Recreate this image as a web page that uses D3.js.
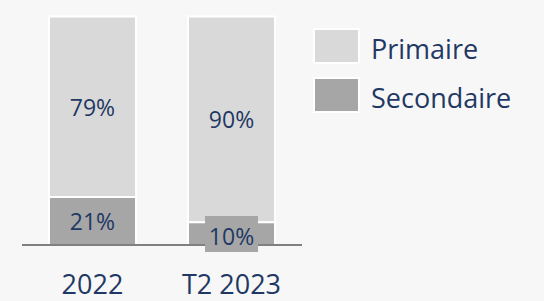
<!DOCTYPE html>
<html>
<head>
<meta charset="utf-8">
<script src="https://cdn.jsdelivr.net/npm/d3@7"></script>
<style>
  body { margin: 0; background: #f7f7f7; }
  text { font-family: "Open Sans", sans-serif; fill: #1f3864; }
</style>
</head>
<body>
<main></main>
<script>
// Données
const categories = ['2022', 'T2 2023'];
const series = ['Primaire', 'Secondaire'];
const primaire = [79, 90];
const secondaire = [21, 10];

const colors = { Primaire: '#d9d9d9', Secondaire: '#a6a6a6' };

const svgWidth = 544, svgHeight = 301;
const svg = d3.select('main').append('svg')
    .attr('width', svgWidth)
    .attr('height', svgHeight);

// Échelles
const x = d3.scaleBand()
    .domain(categories)
    .range([22, 302])
    .paddingInner(0.374)
    .paddingOuter(0.194);

const y = d3.scaleLinear()
    .domain([0, 100])
    .range([245, 16.5]);

// Empilement
const rows = categories.map((c, i) => ({ cat: c, Primaire: primaire[i], Secondaire: secondaire[i] }));
const stack = d3.stack().keys(['Secondaire', 'Primaire'])(rows);

svg.selectAll('.layer')
    .data(stack)
    .enter()
    .append('g')
    .attr('fill', d => colors[d.key])
    .selectAll('rect')
    .data(d => d)
    .enter()
    .append('rect')
    .attr('x', d => x(d.data.cat))
    .attr('y', d => y(d[1]))
    .attr('width', x.bandwidth())
    .attr('height', d => y(d[0]) - y(d[1]))
    .attr('stroke', '#fff')
    .attr('stroke-width', 2);

// Ligne de base
svg.append('line')
    .attr('x1', 22).attr('x2', 302)
    .attr('y1', y(0)).attr('y2', y(0))
    .attr('stroke', '#808080')
    .attr('stroke-width', 2);

// Étiquettes de valeurs
stack.forEach(layer => {
    layer.forEach(d => {
        const v = d[1] - d[0];
        const cx = x(d.data.cat) + x.bandwidth() / 2;
        let cy = (y(d[0]) + y(d[1])) / 2 + 1;
        const small = y(d[0]) - y(d[1]) < 30;
        if (small) {
            // étiquette débordante avec fond
            svg.append('rect')
                .attr('x', cx - 26.5)
                .attr('y', y(d[0]) - 29)
                .attr('width', 53)
                .attr('height', 36)
                .attr('fill', colors[layer.key]);
            cy = y(d[0]) - 8;
        }
        svg.append('text')
            .attr('x', cx)
            .attr('y', cy)
            .attr('dy', '0.35em')
            .attr('text-anchor', 'middle')
            .style('font-size', '23px')
            .text(v + '%');
    });
});

// Axe des catégories
svg.append('g')
    .selectAll('text')
    .data(categories)
    .enter()
    .append('text')
    .attr('x', d => x(d) + x.bandwidth() / 2)
    .attr('y', 294)
    .attr('text-anchor', 'middle')
    .style('font-size', '27px')
    .text(d => d);

// Légende
const legend = svg.append('g')
    .selectAll('g')
    .data(series)
    .enter()
    .append('g')
    .attr('transform', (d, i) => `translate(314,${29 + i * 49})`);

legend.append('rect')
    .attr('width', 45)
    .attr('height', 34)
    .attr('fill', d => colors[d])
    .attr('stroke', '#fff')
    .attr('stroke-width', 2);

legend.append('text')
    .attr('x', 57)
    .attr('y', 30)
    .style('font-size', '27px')
    .text(d => d);
</script>
</body>
</html>
